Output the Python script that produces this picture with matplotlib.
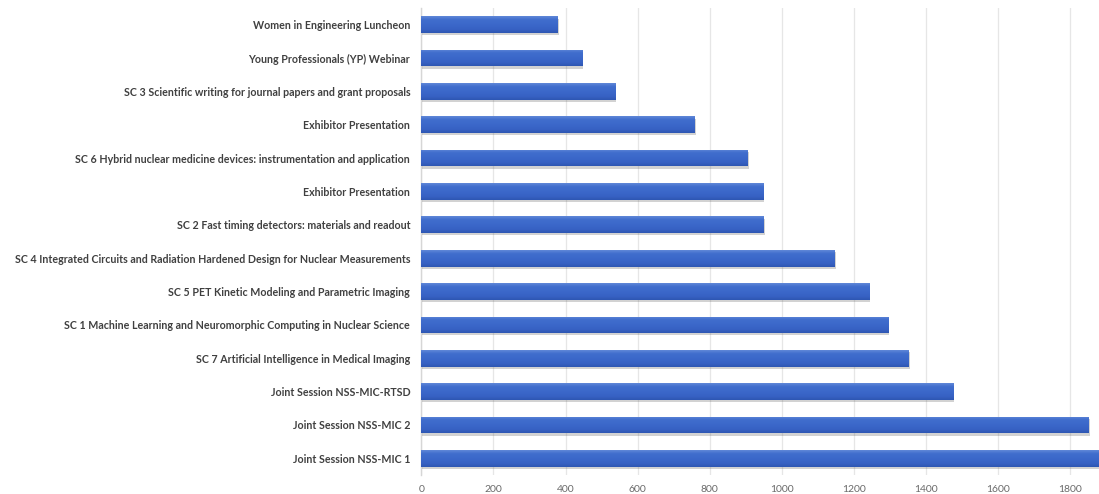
import numpy as np
import matplotlib
matplotlib.use("Agg")
import matplotlib.pyplot as plt
import matplotlib.patheffects as pe
from matplotlib.colors import LinearSegmentedColormap

# Session attendance, listed top to bottom
sessions = [
    "Women in Engineering Luncheon",
    "Young Professionals (YP) Webinar",
    "SC 3 Scientific writing for journal papers and grant proposals",
    "Exhibitor Presentation",
    "SC 6 Hybrid nuclear medicine devices: instrumentation and application",
    "Exhibitor Presentation",
    "SC 2 Fast timing detectors: materials and readout",
    "SC 4 Integrated Circuits and Radiation Hardened Design for Nuclear Measurements",
    "SC 5 PET Kinetic Modeling and Parametric Imaging",
    "SC 1 Machine Learning and Neuromorphic Computing in Nuclear Science",
    "SC 7 Artificial Intelligence in Medical Imaging",
    "Joint Session NSS-MIC-RTSD",
    "Joint Session NSS-MIC 2",
    "Joint Session NSS-MIC 1",
]
attendance = [380, 447, 539, 760, 906, 949, 951, 1148, 1243, 1296, 1353, 1476, 1853, 1900]
x_ticks = [0, 200, 400, 600, 800, 1000, 1200, 1400, 1600, 1800]

fig = plt.figure(figsize=(10.99, 4.94), dpi=100)
ax = fig.add_axes([0.3834, 0.0385, 0.6166, 0.9453])

y = np.arange(len(sessions))
bars = ax.barh(y, attendance, height=0.5, color="#3a66c8", zorder=3,
               path_effects=[pe.SimplePatchShadow(offset=(0.6, -1.6), shadow_rgbFace="#6b6b6b", alpha=0.3),
                             pe.Normal()])

# vertical gradient fill inside each bar: darker bottom edge, lighter top edge
grad_cmap = LinearSegmentedColormap.from_list(
    "barblue", [(0.0, "#2d56b2"), (0.2, "#3761c3"), (0.5, "#3b68ca"),
                (0.8, "#416ecd"), (1.0, "#6088d8")])
grad = np.linspace(0, 1, 64).reshape(-1, 1)
for b in bars:
    x0, y0 = b.get_x(), b.get_y()
    w, h = b.get_width(), b.get_height()
    # y axis is inverted: y0 + h is the lower edge on screen
    im = ax.imshow(grad, cmap=grad_cmap, aspect="auto",
                   extent=(x0, x0 + w, y0 + h, y0), origin="lower",
                   zorder=4, interpolation="bilinear")
    im.set_clip_path(b)

ax.set_xlim(0, 1880)
ax.set_ylim(len(sessions) - 0.5, -0.5)
ax.set_xticks(x_ticks)
ax.set_xticklabels([str(t) for t in x_ticks], fontsize=7.5, color="#6a6a6a", family="Lato")
ax.set_yticks(y)
ax.set_yticklabels(sessions, fontsize=7.65, color="#404040", family="Lato", fontweight="bold")
ax.tick_params(axis="both", length=0)
ax.tick_params(axis="y", pad=8)
ax.tick_params(axis="x", pad=7)

ax.grid(axis="x", color="#e6e6e6", linewidth=0.9, zorder=0)
ax.set_axisbelow(True)
for side in ("top", "right", "bottom"):
    ax.spines[side].set_visible(False)
ax.spines["left"].set_color("#d6d6d6")
ax.spines["left"].set_linewidth(1.0)

fig.savefig("out.png", dpi=100, facecolor="white")
